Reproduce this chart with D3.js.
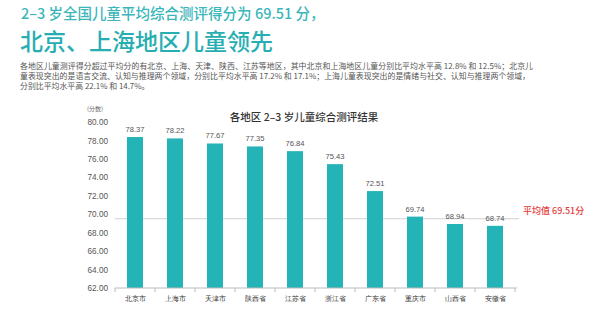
<!DOCTYPE html>
<html><head><meta charset="utf-8">
<script src="https://cdn.jsdelivr.net/npm/d3@7"></script>
<style>
html,body{margin:0;padding:0;background:#fff;}
svg{display:block;font-family:"Noto Sans CJK SC","Noto Sans",sans-serif;}
</style></head>
<body><svg id="c" width="600" height="328"></svg>
<script>
const categories = ["北京市","上海市","天津市","陕西省","江苏省","浙江省","广东省","重庆市","山西省","安徽省"];
const values = [78.37,78.22,77.67,77.35,76.84,75.43,72.51,69.74,68.94,68.74];
const yTicks = [62,64,66,68,70,72,74,76,78,80];
const average = 69.51;
const headline1 = "2–3 岁全国儿童平均综合测评得分为 69.51 分，";
const headline2 = "北京、上海地区儿童领先";
const paragraph = [
  "各地区儿童测评得分超过平均分的有北京、上海、天津、陕西、江苏等地区，其中北京和上海地区儿童分别比平均水平高 12.8% 和 12.5%；北京儿",
  "童表现突出的是语言交流、认知与推理两个领域，分别比平均水平高 17.2% 和 17.1%；上海儿童表现突出的是情绪与社交、认知与推理两个领域，",
  "分别比平均水平高 22.1% 和 14.7%。"
];
const chartTitle = "各地区 2–3 岁儿童综合测评结果";
const unitLabel = "(分数)";
const avgLabel = "平均值 69.51分";

const svg = d3.select("#c");
const teal = "#24b3b6";

// header
svg.append("text").attr("x",21).attr("y",19).attr("font-size",14.5).attr("font-weight",500)
  .attr("fill","#3bb6ba").text(headline1);
svg.append("text").attr("x",20).attr("y",50).attr("font-size",23).attr("font-weight",500)
  .attr("fill","#27aeb2").text(headline2);
svg.selectAll("text.para").data(paragraph).enter().append("text").attr("class","para")
  .attr("x",20).attr("y",(d,i)=>68.5+i*10.3).attr("font-size",7.9).attr("fill","#555")
  .text(d=>d);
svg.selectAll("text.para").filter((d,i)=>i<2).attr("textLength",(d,i)=>i===0?513:510);

// chart
const x = d3.scaleBand().domain(categories).range([115,515]).paddingInner(0.6).paddingOuter(0.3);
const y = d3.scaleLinear().domain([62,80]).range([288,122]);

svg.append("text").attr("x",304).attr("y",121).attr("text-anchor","middle")
  .attr("font-size",10.5).attr("font-weight",500).attr("fill","#333").text(chartTitle);
svg.append("text").attr("x",87).attr("y",111).attr("font-size",6).attr("fill","#666").text(unitLabel);

const yAxis = d3.axisLeft(y).tickValues(yTicks).tickFormat(d3.format(".2f")).tickSize(0).tickPadding(6);
const gy = svg.append("g").attr("transform","translate(114,0)").call(yAxis);
gy.select(".domain").remove();
gy.selectAll("text").attr("font-size",8.2).attr("fill","#555").attr("font-family","Liberation Sans, Arial, sans-serif");

// average line
svg.append("line").attr("x1",115).attr("x2",519).attr("y1",y(average)).attr("y2",y(average))
  .attr("stroke","#d0d0d0").attr("stroke-width",1);
svg.append("text").attr("x",523).attr("y",y(average)-5).attr("font-size",9).attr("font-weight",500)
  .attr("fill","#e63c3c").text(avgLabel);

// bars
svg.selectAll("rect.bar").data(values).enter().append("rect").attr("class","bar")
  .attr("x",(d,i)=>x(categories[i])).attr("width",x.bandwidth())
  .attr("y",d=>y(d)).attr("height",d=>y(62)-y(d)).attr("fill",teal);
svg.selectAll("text.val").data(values).enter().append("text").attr("class","val")
  .attr("x",(d,i)=>x(categories[i])+x.bandwidth()/2).attr("y",d=>y(d)-5)
  .attr("text-anchor","middle").attr("font-size",7.6).attr("fill","#555")
  .attr("font-family","Liberation Sans, Arial, sans-serif").text(d=>d.toFixed(2));

// x axis
const xAxis = d3.axisBottom(x).tickSize(0).tickPadding(8);
const gx = svg.append("g").attr("transform","translate(0,288)").call(xAxis);
gx.select(".domain").attr("stroke","#bbb").attr("d","M115,0H517");
gx.selectAll("text").attr("font-size",6.8).attr("fill","#333");
const step = x.step();
svg.selectAll("line.sep").data(d3.range(categories.length+1)).enter().append("line").attr("class","sep")
  .attr("x1",d=>115+d*step).attr("x2",d=>115+d*step).attr("y1",288).attr("y2",292)
  .attr("stroke","#bbb");
</script></body></html>
